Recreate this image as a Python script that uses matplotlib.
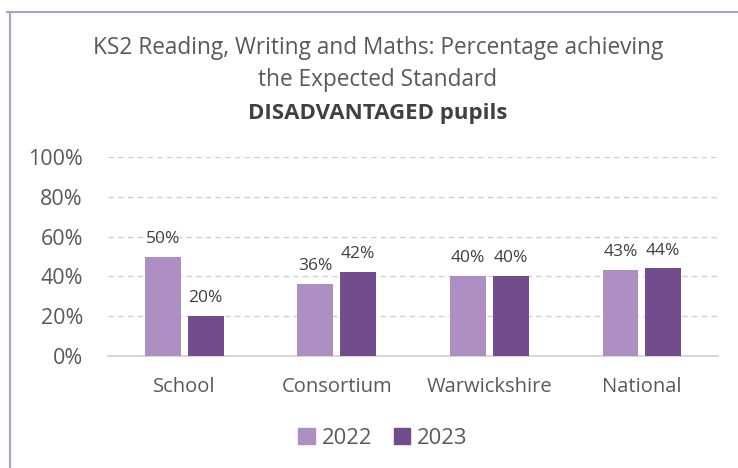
import matplotlib
matplotlib.use("Agg")
import matplotlib.pyplot as plt
from matplotlib.lines import Line2D
import numpy as np

plt.rcParams['font.family'] = ['Open Sans', 'DejaVu Sans']

categories = ["School", "Consortium", "Warwickshire", "National"]
years = ["2022", "2023"]
values_2022 = [50, 36, 40, 43]
values_2023 = [20, 42, 40, 44]
yticks = [0, 20, 40, 60, 80, 100]
colors = ["#AE8FC3", "#734C8D"]

fig = plt.figure(figsize=(7.38, 4.68), dpi=100)
ax = fig.add_axes([0.1463, 0.2393, 0.8267, 0.4252])

x = np.arange(len(categories))
w = 0.235
gap = 0.045
for i, (vals, c, lab) in enumerate(zip([values_2022, values_2023], colors, years)):
    off = (-1 if i == 0 else 1) * (w + gap) / 2
    bars = ax.bar(x + off, vals, w, color=c, label=lab, zorder=3)
    for b, v in zip(bars, vals):
        ax.text(b.get_x() + b.get_width() / 2, v + 5, f"{v}%", ha="center", va="bottom",
                fontsize=12.5, color="#404040")

ax.set_xlim(-0.5, len(categories) - 0.5)
ax.set_ylim(0, 100)
ax.set_yticks(yticks)
ax.set_yticklabels([f"{t}%" for t in yticks], fontsize=15.5, color="#595959")
ax.set_xticks(x)
ax.set_xticklabels(categories, fontsize=14.5, color="#595959")
ax.tick_params(axis="both", length=0)
ax.tick_params(axis="y", pad=18)
ax.tick_params(axis="x", pad=15)
for s in ["top", "right", "left"]:
    ax.spines[s].set_visible(False)
ax.spines["bottom"].set_color("#D0D0D0")
ax.spines["bottom"].set_linewidth(1.2)
ax.yaxis.grid(True, linestyle=(0, (4, 3)), color="#D0D0D0", linewidth=1, zorder=0)
for gl in ax.get_ygridlines()[:1]:
    gl.set_visible(False)

fig.text(0.512, 1 - 48 / 468, "KS2 Reading, Writing and Maths: Percentage achieving",
         ha="center", va="center", fontsize=16.3, color="#595959")
fig.text(0.512, 1 - 80 / 468, "the Expected Standard",
         ha="center", va="center", fontsize=16.3, color="#595959")
fig.text(0.512, 1 - 113 / 468, "DISADVANTAGED pupils",
         ha="center", va="center", fontsize=16, color="#404040", fontweight="bold")

handles = [plt.Rectangle((0, 0), 1, 1, color=c) for c in colors]
fig.legend(handles, years, loc="center", bbox_to_anchor=(383 / 738, 1 - 438 / 468),
           ncol=2, frameon=False, fontsize=15.8, handlelength=0.75, handleheight=0.75,
           handletextpad=0.3, columnspacing=1.0, labelcolor="#595959")

bc = "#B39DCB"
fig.add_artist(Line2D([7 / 738, 1], [1 - 12 / 468, 1 - 12 / 468], color=bc, linewidth=1.5,
                      transform=fig.transFigure))
fig.add_artist(Line2D([10 / 738, 10 / 738], [0, 1 - 12 / 468], color=bc, linewidth=1.5,
                      transform=fig.transFigure))

fig.savefig("out.png", dpi=100)
